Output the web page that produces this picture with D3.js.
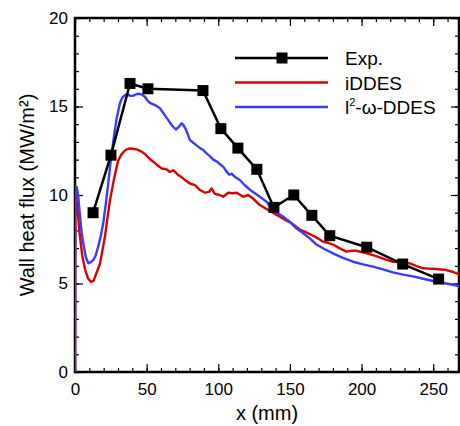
<!DOCTYPE html>
<html>
<head>
<meta charset="utf-8">
<script src="https://cdn.jsdelivr.net/npm/d3@7"></script>
<style>
  body { margin: 0; background: #fff; }
  text { font-family: "Liberation Sans", Arial, sans-serif; fill: #000; }
</style>
</head>
<body>
<div id="chart"></div>
<script>

// Experimental points (x in mm, heat flux in MW/m2)
const expX = [12.6, 25.1, 38.4, 50.9, 89.3, 101.8, 113.7, 126.9, 138.8, 152.7, 165.3, 177.8, 203.6, 228.7, 253.8];
const expY = [9.0, 12.25, 16.3, 16.0, 15.9, 13.75, 12.65, 11.45, 9.3, 10.0, 8.85, 7.7, 7.05, 6.1, 5.25];

// iDDES curve
const iddesX = [0, 0.2, 1.5, 3, 5, 7, 9, 11, 13, 15, 17.4, 19, 21, 23, 24.4, 26.5, 28, 30, 32, 34, 36, 38.4, 41, 43, 46.5, 49, 51, 53.5, 55.8, 58, 60.5, 63.9, 66.2, 68.6, 72, 74.5, 76.7, 80.2, 83.7, 87.2, 90.7, 93.6, 95.3, 97.6, 101, 103.4, 107, 110, 112.8, 117.4, 120.8, 124.3, 129, 134.8, 139, 143, 147, 151.1, 156.9, 161, 166.2, 169.5, 173.1, 176.6, 180.1, 184.5, 189.4, 193, 196.4, 200, 203.4, 208, 212.6, 217, 221.9, 227, 233.6, 238, 242.9, 247, 252.2, 259.2, 264, 268];
const iddesY = [0, 10.2, 9.4, 8.0, 6.6, 5.8, 5.3, 5.1, 5.15, 5.6, 6.1, 6.8, 7.7, 8.9, 9.7, 10.6, 11.2, 11.9, 12.25, 12.45, 12.58, 12.63, 12.6, 12.58, 12.45, 12.3, 12.13, 11.95, 11.8, 11.65, 11.5, 11.45, 11.3, 11.4, 11.13, 11.0, 10.85, 10.65, 10.56, 10.28, 10.13, 10.18, 10.37, 10.06, 10.0, 9.9, 10.13, 10.1, 10.13, 9.9, 10.0, 9.8, 9.43, 9.15, 8.95, 8.77, 8.58, 8.4, 8.05, 7.9, 7.7, 7.55, 7.36, 7.3, 7.2, 7.0, 6.8, 6.85, 6.85, 6.78, 6.7, 6.6, 6.48, 6.35, 6.23, 6.2, 6.14, 6.0, 5.86, 5.84, 5.82, 5.76, 5.65, 5.52];

// l2-omega-DDES curve
const l2wX = [0, 0.2, 1.2, 2.3, 3.5, 4.6, 5.8, 7.5, 9.3, 11, 12.8, 14.5, 16.2, 18, 19.7, 21.5, 23.2, 25, 27, 29, 31.4, 33, 34.9, 36.5, 38.4, 40, 41.8, 43.5, 45.8, 47, 48.8, 50.5, 52.3, 55.8, 59.3, 61, 62.8, 64.5, 66.2, 68, 70.4, 72.5, 74.4, 75.7, 77, 78.6, 80.2, 82.5, 84.8, 87.2, 89.5, 91.8, 94.1, 96.5, 98.8, 101, 103.4, 105.5, 107.6, 109.3, 112, 115, 118.5, 122, 125.5, 129, 133.7, 137.2, 141, 145.3, 150, 154.6, 159, 163.9, 168.5, 174, 180.1, 187, 194, 201, 208, 215, 221.9, 229, 235.9, 243, 249.9, 259.2, 268];
const l2wY = [0, 10.5, 10.45, 9.9, 8.8, 7.9, 7.27, 6.5, 6.14, 6.2, 6.33, 6.6, 7.08, 7.7, 8.4, 9.5, 10.65, 12.0, 13.2, 14.3, 15.2, 15.5, 15.65, 15.7, 15.6, 15.6, 15.65, 15.72, 15.7, 15.65, 15.55, 15.35, 15.2, 15.08, 14.9, 14.7, 14.5, 14.3, 14.1, 13.9, 13.7, 13.85, 14.05, 13.95, 13.77, 13.45, 13.1, 12.95, 12.8, 12.65, 12.54, 12.35, 12.2, 12.0, 11.9, 11.75, 11.6, 11.35, 11.15, 11.2, 11.0, 10.85, 10.55, 10.3, 10.1, 9.9, 9.62, 9.24, 9.0, 8.77, 8.48, 8.1, 7.85, 7.55, 7.2, 6.95, 6.7, 6.45, 6.23, 6.08, 5.95, 5.8, 5.63, 5.5, 5.4, 5.27, 5.14, 5.0, 4.86];

const xTicks = [0, 50, 100, 150, 200, 250];
const yTicks = [0, 5, 10, 15, 20];
const seriesNames = ["Exp.", "iDDES", "l²-ω-DDES"];

const W = 460, H = 426;
const margin = { top: 18, right: 1, bottom: 54, left: 75 };
const width = W - margin.left - margin.right;
const height = H - margin.top - margin.bottom;

const red = "#dd0000", blue = "#3b3bff";

const svg = d3.select("#chart").append("svg")
    .attr("width", W)
    .attr("height", H);

const g = svg.append("g")
    .attr("transform", "translate(" + margin.left + "," + margin.top + ")");

const x = d3.scaleLinear().domain([0, 268]).range([0, width]);
const y = d3.scaleLinear().domain([0, 20]).range([height, 0]);

g.append("clipPath").attr("id", "clip")
    .append("rect").attr("width", width).attr("height", height);

// ticks, all pointing inward
function addAxis(axisFn, scale, ticks, size, transform, labels) {
    let a = axisFn(scale).tickValues(ticks).tickSize(-size).tickPadding(7);
    if (!labels) a.tickFormat("");
    let ag = g.append("g").attr("transform", transform).call(a);
    ag.select(".domain").remove();
    ag.selectAll("line").attr("stroke", "#000").attr("stroke-width", 1.2);
    ag.selectAll("text").style("font-size", "17px").attr("font-family", null);
    return ag;
}

const xMinor = d3.range(0, 269, 10);
const yMinor = d3.range(0, 21, 1);

addAxis(d3.axisBottom, x, xMinor, 4, "translate(0," + height + ")", false);
addAxis(d3.axisBottom, x, xTicks, 8, "translate(0," + height + ")", true)
    .selectAll("text").attr("dy", "0.95em");
addAxis(d3.axisTop, x, xMinor, 4, "translate(0,0)", false);
addAxis(d3.axisTop, x, xTicks, 8, "translate(0,0)", false);
addAxis(d3.axisLeft, y, yMinor, 4, "translate(0,0)", false);
addAxis(d3.axisLeft, y, yTicks, 8, "translate(0,0)", true);
addAxis(d3.axisRight, y, yMinor, 4, "translate(" + width + ",0)", false);
addAxis(d3.axisRight, y, yTicks, 8, "translate(" + width + ",0)", false);

// frame
g.append("rect")
    .attr("width", width).attr("height", height)
    .attr("fill", "none").attr("stroke", "#000").attr("stroke-width", 2.5);

const line = d3.line().x(d => x(d[0])).y(d => y(d[1]));

const curves = g.append("g").attr("clip-path", "url(#clip)");

curves.append("path")
    .datum(d3.zip(iddesX, iddesY))
    .attr("d", line)
    .attr("fill", "none").attr("stroke", red).attr("stroke-width", 2.4)
    .attr("stroke-linejoin", "round");

curves.append("path")
    .datum(d3.zip(l2wX, l2wY))
    .attr("d", line)
    .attr("fill", "none").attr("stroke", blue).attr("stroke-width", 2.4)
    .attr("stroke-linejoin", "round");

const expData = d3.zip(expX, expY);

curves.append("path")
    .datum(expData)
    .attr("d", line)
    .attr("fill", "none").attr("stroke", "#000").attr("stroke-width", 2.5);

const sq = 11;
curves.selectAll("rect.exp")
    .data(expData)
    .enter()
    .append("rect")
    .attr("class", "exp")
    .attr("x", d => x(d[0]) - sq / 2)
    .attr("y", d => y(d[1]) - sq / 2)
    .attr("width", sq).attr("height", sq)
    .attr("fill", "#000");

// axis titles
svg.append("text")
    .attr("x", margin.left + width / 2)
    .attr("y", 420)
    .attr("text-anchor", "middle")
    .style("font-size", "20px")
    .text("x (mm)");

svg.append("text")
    .attr("transform", "translate(34," + (margin.top + height / 2) + ") rotate(-90)")
    .attr("text-anchor", "middle")
    .style("font-size", "20px")
    .text("Wall heat flux (MW/m²)");

// legend
const legendColors = ["#000", red, blue];
const legend = svg.append("g").attr("transform", "translate(235,58)");

seriesNames.forEach(function (name, i) {
    let row = legend.append("g").attr("transform", "translate(0," + (i * 24.5) + ")");
    row.append("line")
        .attr("x1", 0).attr("x2", 93)
        .attr("stroke", legendColors[i]).attr("stroke-width", 2.5);
    if (i == 0) {
        row.append("rect")
            .attr("x", 47 - sq / 2).attr("y", -sq / 2)
            .attr("width", sq).attr("height", sq).attr("fill", "#000");
    }
    let t = row.append("text")
        .attr("x", 110).attr("y", 7)
        .style("font-size", "19px");
    if (i == 2) {
        t.append("tspan").text("l");
        t.append("tspan").attr("dy", -8).style("font-size", "11px").text("2");
        t.append("tspan").attr("dy", 8).text("-ω-DDES");
    } else {
        t.text(name);
    }
});

</script>
</body>
</html>
